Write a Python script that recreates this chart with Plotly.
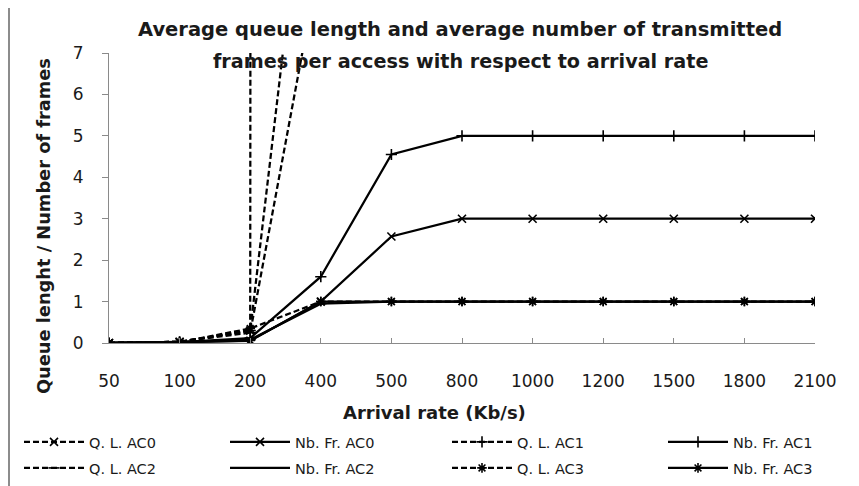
import plotly.graph_objects as go

arrival_rate = ["50", "100", "200", "400", "500", "800", "1000", "1200", "1500", "1800", "2100"]

ql_ac0 = [0, 0.03, 0.30, 2500, 3200, 5000, 6200, 7400, 9300, 11000, 13000]
nb_ac0 = [0, 0.02, 0.05, 1.0, 2.57, 3, 3, 3, 3, 3, 3]
ql_ac1 = [0, 0.03, 0.30, 14.8, 25, 50, 65, 80, 100, 120, 140]
nb_ac1 = [0, 0.02, 0.12, 1.6, 4.55, 5, 5, 5, 5, 5, 5]
ql_ac2 = [0, 0.03, 0.25, 9.4, 15, 35, 45, 55, 70, 85, 100]
nb_ac2 = [0, 0.02, 0.08, 0.95, 1, 1, 1, 1, 1, 1, 1]
ql_ac3 = [0, 0.02, 0.35, 1, 1, 1, 1, 1, 1, 1, 1]
nb_ac3 = [0, 0.02, 0.06, 1, 1, 1, 1, 1, 1, 1, 1]

series = [
    ("Q. L. AC0", ql_ac0, "6px,3px", "x-thin"),
    ("Nb. Fr. AC0", nb_ac0, "solid", "x-thin"),
    ("Q. L. AC1", ql_ac1, "6px,3px", "cross-thin"),
    ("Nb. Fr. AC1", nb_ac1, "solid", "cross-thin"),
    ("Q. L. AC2", ql_ac2, "6px,3px", "line-ew"),
    ("Nb. Fr. AC2", nb_ac2, "solid", "line-ew"),
    ("Q. L. AC3", ql_ac3, "6px,3px", "asterisk"),
    ("Nb. Fr. AC3", nb_ac3, "solid", "asterisk"),
]

# page body adds an 8px offset; positions below are given in screen pixels
OFF = 8
W, H = 859, 486
L, R, T, B = 109 - OFF, W - (815 - OFF), 53 - OFF, H - (343 - OFF)
pw, ph = W - L - R, H - T - B

def px(p):
    return (p - OFF - L) / pw

def py(p):
    return (H - B - (p - OFF)) / ph

font = "DejaVu Sans"
txt = "#1a1a1a"

leg_x = [19, 225, 447, 663]
leg_y = [442, 468]

fig = go.Figure()
layout_legends = {}
for i, (name, vals, dash, sym) in enumerate(series):
    key = "legend" if i == 0 else f"legend{i + 1}"
    fig.add_trace(go.Scatter(
        x=arrival_rate, y=vals, name=name, mode="lines+markers", legend=key,
        line=dict(color="black", width=2.25, dash=dash),
        marker=dict(symbol=sym, size=8, color="black",
                    line=dict(color="black", width=1.6)),
    ))
    layout_legends[key] = dict(
        orientation="h", xanchor="left", yanchor="middle",
        xref="container", yref="container",
        x=(leg_x[i % 4] - OFF) / W, y=1 - (leg_y[i // 4] - OFF) / H,
        font=dict(family=font, size=14.5, color=txt),
        itemwidth=60, bgcolor="rgba(0,0,0,0)",
    )

fig.update_layout(
    width=W, height=H,
    margin=dict(l=L, r=R, t=T, b=B, autoexpand=False),
    paper_bgcolor="white", plot_bgcolor="white",
    font=dict(family=font, color=txt),
    showlegend=True,
    xaxis=dict(
        type="category", range=[0, 10], showgrid=False,
        showline=True, linecolor="#8a8a8a", linewidth=1,
        ticks="inside", ticklen=5, tickcolor="#8a8a8a",
        tickfont=dict(family=font, size=17, color=txt),
        ticklabelstandoff=23, zeroline=False,
    ),
    yaxis=dict(
        range=[0, 7], dtick=1, showgrid=False,
        showline=True, linecolor="#8a8a8a", linewidth=1,
        ticks="outside", ticklen=6, tickcolor="#8a8a8a",
        tickfont=dict(family=font, size=17, color=txt),
        ticklabelstandoff=15, zeroline=False,
    ),
    **layout_legends,
)

def note(text, x, y, size, angle=0):
    fig.add_annotation(text=text, x=px(x), y=py(y), xref="paper", yref="paper",
                       xanchor="center", yanchor="middle", textangle=angle,
                       showarrow=False, font=dict(family=font, size=size, color=txt))

note("<b>Average queue length and average number of transmitted</b>", 460, 30, 19.5)
note("<b>frames per access with respect to arrival rate</b>", 460, 61, 19.2)
note("<b>Arrival rate (Kb/s)</b>", 434, 412, 18)
note("<b>Queue lenght / Number of frames</b>", 43, 226, 17.8, -90)

fig.add_shape(type="rect", xref="paper", yref="paper",
              x0=px(9), x1=px(900), y0=py(520), y1=py(7),
              line=dict(color="#8c8c8c", width=2), fillcolor="rgba(0,0,0,0)", layer="below")

fig.write_html("out.html")
